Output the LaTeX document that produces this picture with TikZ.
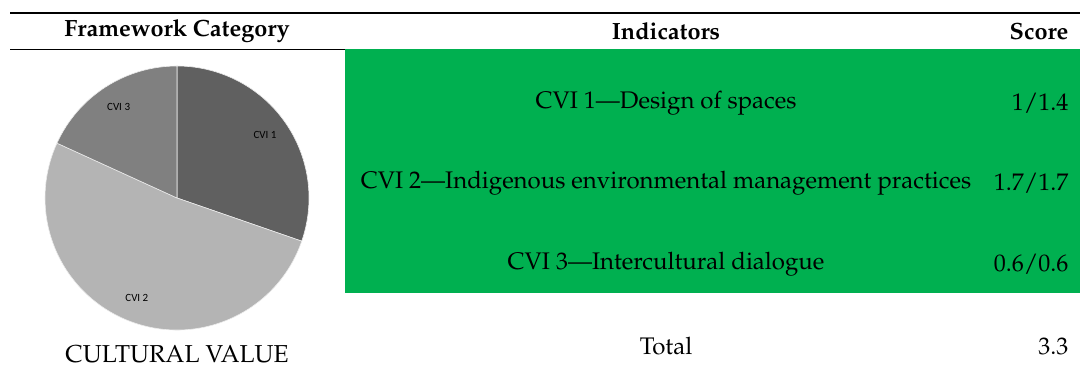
\documentclass[tikz,border=0pt]{standalone}
\usepackage{fontspec}
\newfontfamily\kleinschrift{Carlito}
\usepackage[T1]{fontenc}
\usepackage{mathpazo}
\definecolor{tabgruen}{RGB}{0,176,80}
\definecolor{stueckA}{RGB}{96,96,96}
\definecolor{stueckB}{RGB}{180,180,180}
\definecolor{stueckC}{RGB}{128,128,128}

\begin{document}
\begin{tikzpicture}[x=1pt, y=1pt,
    kopf/.style={font=\fontsize{23.5}{27}\selectfont\bfseries},
    zeile/.style={font=\fontsize{24}{28}\selectfont},
    stueck/.style={font=\kleinschrift\fontsize{11}{13}\selectfont}]

        \useasboundingbox (0,0) rectangle (1080,369);

        \coordinate (kreismitte) at (177,171);

        % Linien
        \draw [line width=2pt] (10,356) -- (1080,356);
        \draw [line width=0.8pt] (10,320) -- (1080,320);
        \fill [tabgruen] (345,319.5) rectangle (1080,76);

        % Kopfzeile
        \node [kopf] (kategorie) at (177,338) {Framework Category};
        \node [kopf] (indikatoren) at (666,338) {Indicators};
        \node [kopf, anchor=east] (punkte) at (1072,338) {Score};

        % Zeilen
        \foreach \zy/\ztext/\zwert/\zname in {266/{CVI 1---Design of spaces}/1\slash 1.4/eins, 186/{CVI 2---Indigenous environmental management practices}/1.7\slash 1.7/zwei, 105/{CVI 3---Intercultural dialogue}/0.6\slash 0.6/drei}
        {
            \node [zeile] (text\zname) at (666,\zy) {\ztext};
            \node [zeile, anchor=east] (wert\zname) at (1072,\zy) {\zwert};
        }
        \node [zeile] (summe) at (666,23) {Total};
        \node [zeile, anchor=east] (summewert) at (1072,23) {3.3};

        % Kreisdiagramm
        \foreach \anfang/\ende/\farbe/\beschriftung in {90/-19.09/stueckA/CVI 1, -19.09/-204.55/stueckB/CVI 2, -204.55/-270/stueckC/CVI 3}
        {
            \filldraw [fill=\farbe, draw=white!85!gray, line width=0.6pt] (kreismitte) -- ++(\anfang:132) arc (\anfang:\ende:132) -- cycle;
            \node [stueck] at ([shift={({(\anfang+\ende)/2}:108)}]kreismitte) {\beschriftung};
        }

        \node [zeile, font=\fontsize{24.5}{28}\selectfont] (wert) at (177,15) {CULTURAL VALUE};

\end{tikzpicture}
\end{document}
